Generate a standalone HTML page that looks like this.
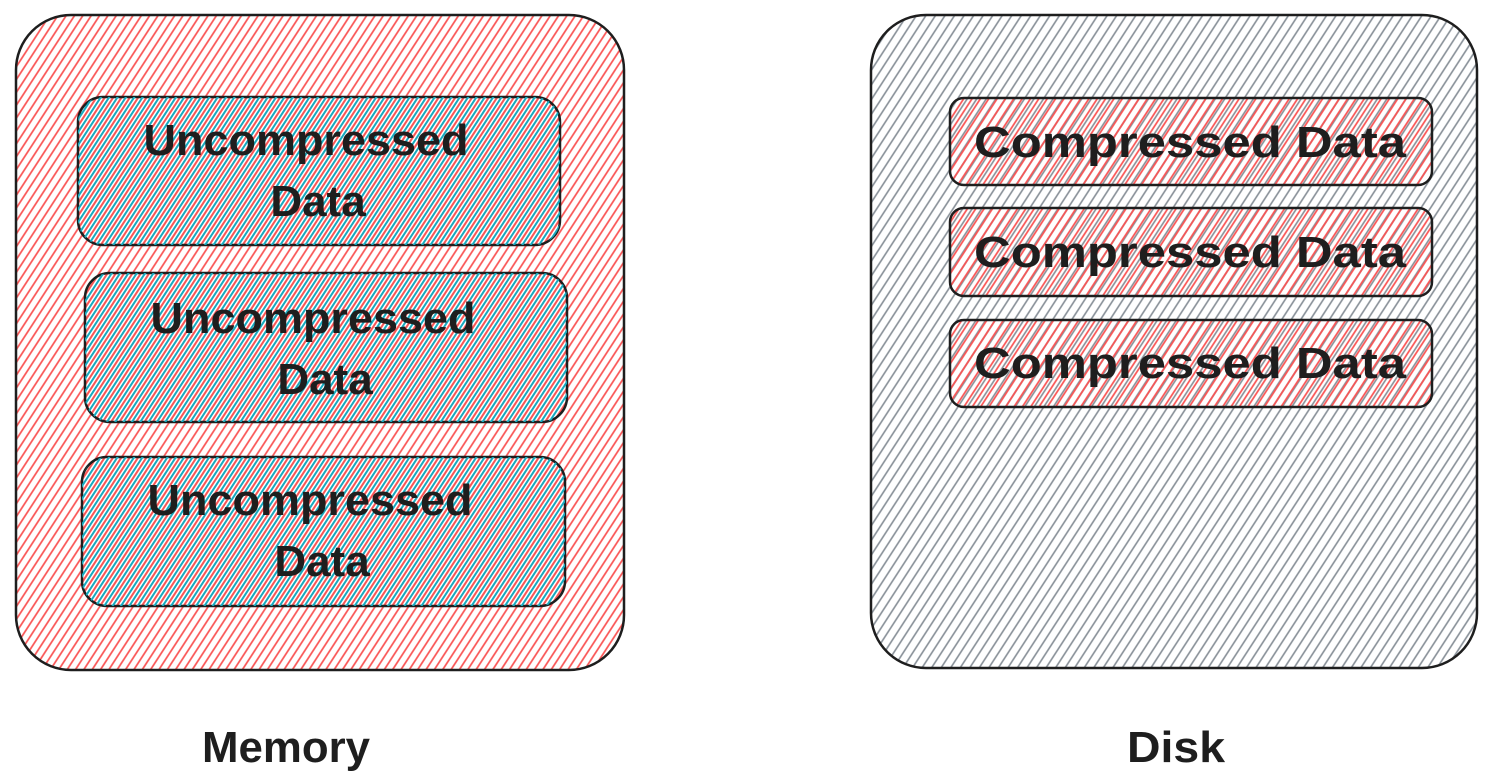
<!DOCTYPE html>
<html><head><meta charset="utf-8"><style>
html,body{margin:0;padding:0;background:#fff;width:1498px;height:774px;overflow:hidden}
svg text{font-family:"Liberation Sans",sans-serif;font-weight:bold;fill:#1e1e1e}
</style></head><body>
<svg width="1498" height="774" viewBox="0 0 1498 774">
<defs>
<pattern id="red" width="7" height="7" patternUnits="userSpaceOnUse" patternTransform="rotate(33)">
<line x1="1" y1="0" x2="1" y2="7" stroke="#fa5252" stroke-width="1.7"/></pattern>
<pattern id="cyan" width="7" height="7" patternUnits="userSpaceOnUse" patternTransform="rotate(33)">
<line x1="4.5" y1="0" x2="4.5" y2="7" stroke="#15aabf" stroke-width="2"/></pattern>
<pattern id="grey" width="8" height="8" patternUnits="userSpaceOnUse" patternTransform="rotate(33)">
<line x1="1" y1="0" x2="1" y2="8" stroke="#868e96" stroke-width="1.6"/></pattern>
</defs>
<g>
<rect x="16" y="15" width="608" height="655" rx="55" fill="url(#red)" stroke="#1e1e1e" stroke-width="2.5"/>
</g>
<g>
<rect x="78" y="97" width="482" height="148" rx="25" fill="url(#red)" stroke="#1e1e1e" stroke-width="2.5"/>
<rect x="78" y="97" width="482" height="148" rx="25" fill="url(#cyan)"/>
<text x="306" y="155" font-size="44" text-anchor="middle" textLength="325" lengthAdjust="spacingAndGlyphs">Uncompressed</text>
<text x="318" y="216" font-size="44" text-anchor="middle">Data</text>
</g>
<g>
<rect x="85" y="273" width="482" height="149" rx="25" fill="url(#red)" stroke="#1e1e1e" stroke-width="2.5"/>
<rect x="85" y="273" width="482" height="149" rx="25" fill="url(#cyan)"/>
<text x="313" y="333" font-size="44" text-anchor="middle" textLength="325" lengthAdjust="spacingAndGlyphs">Uncompressed</text>
<text x="325" y="394" font-size="44" text-anchor="middle">Data</text>
</g>
<g>
<rect x="82" y="457" width="483" height="149" rx="25" fill="url(#red)" stroke="#1e1e1e" stroke-width="2.5"/>
<rect x="82" y="457" width="483" height="149" rx="25" fill="url(#cyan)"/>
<text x="310" y="515" font-size="44" text-anchor="middle" textLength="325" lengthAdjust="spacingAndGlyphs">Uncompressed</text>
<text x="322" y="576" font-size="44" text-anchor="middle">Data</text>
</g>
<g>
<rect x="871" y="15" width="606" height="653" rx="55" fill="url(#grey)" stroke="#1e1e1e" stroke-width="2.5"/>
</g>
<g>
<rect x="950" y="98" width="482" height="87" rx="14" fill="url(#red)" stroke="#1e1e1e" stroke-width="2.5"/>
<text x="1190" y="157" font-size="44" text-anchor="middle" textLength="432" lengthAdjust="spacingAndGlyphs">Compressed Data</text>
</g>
<g>
<rect x="950" y="208" width="482" height="88" rx="14" fill="url(#red)" stroke="#1e1e1e" stroke-width="2.5"/>
<text x="1190" y="267" font-size="44" text-anchor="middle" textLength="432" lengthAdjust="spacingAndGlyphs">Compressed Data</text>
</g>
<g>
<rect x="950" y="320" width="482" height="87" rx="14" fill="url(#red)" stroke="#1e1e1e" stroke-width="2.5"/>
<text x="1190" y="378" font-size="44" text-anchor="middle" textLength="432" lengthAdjust="spacingAndGlyphs">Compressed Data</text>
</g>
<text x="286" y="762" font-size="44" text-anchor="middle" textLength="168" lengthAdjust="spacingAndGlyphs">Memory</text>
<text x="1176" y="762" font-size="44" text-anchor="middle" textLength="98" lengthAdjust="spacingAndGlyphs">Disk</text>
</svg>
</body></html>
